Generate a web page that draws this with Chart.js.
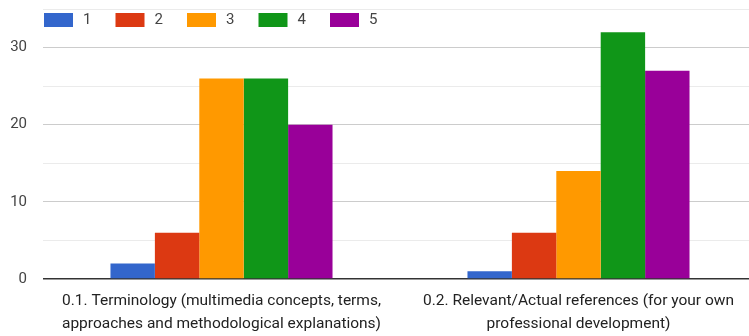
<!DOCTYPE html>
<html>
<head>
<meta charset="utf-8">
<script src="https://cdn.jsdelivr.net/npm/chart.js@4/dist/chart.umd.min.js"></script>
<style>
  html, body { margin: 0; padding: 0; background: #fff; overflow: hidden; }
  #frame { position: relative; width: 749px; height: 336px; overflow: hidden; }
  #wrap { position: absolute; left: 0; top: -16px; width: 757px; height: 352px; }
</style>
</head>
<body>
<div id="frame"><div id="wrap"><canvas id="c"></canvas></div></div>
<script>
// Survey answers per rating (1–5) for each question
const categories = [
  ["0.1. Terminology (multimedia concepts, terms,", "approaches and methodological explanations)"],
  ["0.2. Relevant/Actual references (for your own", "professional development)"]
];
const seriesLabels = ["1", "2", "3", "4", "5"];
const rating1 = [2, 1];
const rating2 = [6, 6];
const rating3 = [26, 14];
const rating4 = [26, 32];
const rating5 = [20, 27];
const yTicks = [0, 10, 20, 30];

const colors = ["#3366cc", "#dc3912", "#ff9900", "#109618", "#990099"];
const seriesValues = [rating1, rating2, rating3, rating4, rating5];

const FONT = "Roboto, 'Liberation Sans', Arial, sans-serif";
const SHIFT = 16; // canvas sits this far above the visible frame

// Legend drawn inline across the top of the plot
const topLegend = {
  id: "topLegend",
  afterDraw(chart) {
    const ctx = chart.ctx;
    ctx.save();
    ctx.font = "15px " + FONT;
    ctx.textBaseline = "middle";
    ctx.textAlign = "left";
    chart.data.datasets.forEach((ds, i) => {
      const x = 44 + i * 71.5;
      ctx.fillStyle = "#fff";
      ctx.fillRect(x - 2, SHIFT + 11, 70, 18);
      ctx.fillStyle = ds.backgroundColor;
      ctx.fillRect(x, SHIFT + 13, 29, 14);
      ctx.fillStyle = "#444";
      ctx.fillText(ds.label, x + 39, SHIFT + 20.5);
    });
    ctx.restore();
  }
};

new Chart(document.getElementById("c"), {
  type: "bar",
  data: {
    labels: categories,
    datasets: seriesLabels.map((lab, i) => ({
      label: lab,
      data: seriesValues[i],
      backgroundColor: colors[i],
      borderWidth: 0,
      barPercentage: 1,
      categoryPercentage: 0.622
    }))
  },
  options: {
    responsive: true,
    maintainAspectRatio: false,
    animation: false,
    layout: { padding: { top: 0, right: 0, bottom: 0, left: 0 } },
    plugins: {
      legend: { display: false },
      tooltip: { enabled: false }
    },
    scales: {
      x: {
        grid: { display: false, drawTicks: false },
        border: { display: false },
        ticks: {
          color: "#222",
          font: { family: FONT, size: 15.5, lineHeight: 1.48 },
          padding: 11,
          maxRotation: 0,
          autoSkip: false
        },
        afterFit(scale) { scale.height = 57; }
      },
      y: {
        min: 0,
        max: 35,
        border: { display: false },
        grid: {
          drawTicks: false,
          color: (c) => c.tick.value === 0 ? "#333" : (yTicks.includes(c.tick.value) ? "#cccccc" : "#ebebeb"),
          lineWidth: (c) => c.tick.value === 0 ? 1.5 : 1
        },
        ticks: {
          stepSize: 5,
          color: "#444",
          padding: 16,
          font: { family: FONT, size: 15 },
          callback: (v) => yTicks.includes(v) ? String(v) : ""
        },
        afterFit(scale) { scale.width = 43; }
      }
    }
  },
  plugins: [topLegend]
});
</script>
</body>
</html>
